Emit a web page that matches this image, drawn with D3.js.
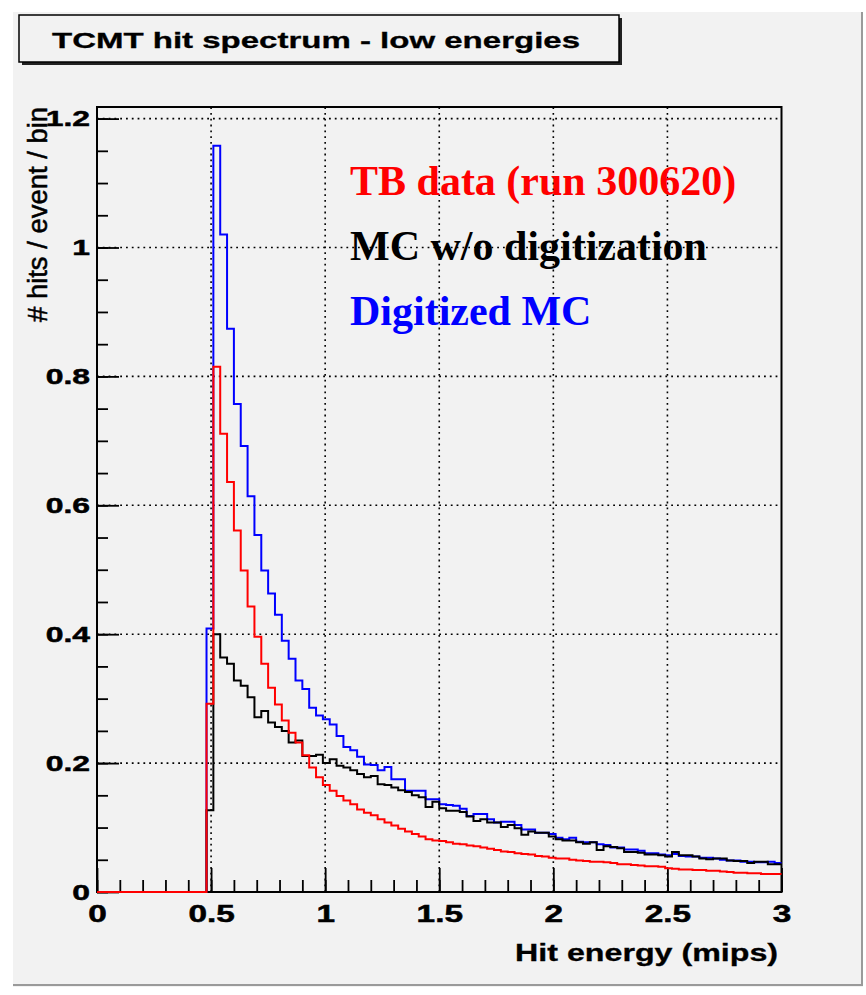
<!DOCTYPE html>
<html>
<head>
<meta charset="utf-8">
<script src="https://cdn.jsdelivr.net/npm/d3@7/dist/d3.min.js"></script>
<style>
  body { margin: 0; background: #fff; }
  svg { display: block; }
</style>
</head>
<body>
<div id="chart"></div>
<script>
// histogram binning (lower edge of first filled bin, bin width) and x range
const BIN_START = 0.48;
const BIN_WIDTH = 0.03;
const X_DOMAIN = [0, 3];
const Y_DOMAIN = [0, 1.218];

const xTickValues = [0, 0.5, 1, 1.5, 2, 2.5, 3];
const xTickLabels = ["0", "0.5", "1", "1.5", "2", "2.5", "3"];
const yTickValues = [0, 0.2, 0.4, 0.6, 0.8, 1, 1.2];
const yTickLabels = ["0", "0.2", "0.4", "0.6", "0.8", "1", "1.2"];

const chartTitle = "TCMT hit spectrum - low energies";
const xTitle = "Hit energy (mips)";
const yTitle = "# hits / event / bin";

// TB data (run 300620) — red
const tbData = [
  0.292, 0.815, 0.711, 0.636, 0.561, 0.499, 0.443, 0.396, 0.354, 0.317,
  0.291, 0.266, 0.247, 0.232, 0.212, 0.193, 0.178, 0.166, 0.157, 0.149,
  0.142, 0.136, 0.128, 0.123, 0.119, 0.113, 0.108, 0.103, 0.098, 0.094,
  0.090, 0.086, 0.082, 0.080, 0.079, 0.077, 0.075, 0.074, 0.072, 0.071,
  0.069, 0.067, 0.065, 0.063, 0.062, 0.060, 0.059, 0.058, 0.056, 0.055,
  0.053, 0.052, 0.052, 0.050, 0.049, 0.048, 0.047, 0.047, 0.046, 0.045,
  0.043, 0.043, 0.042, 0.041, 0.040, 0.040, 0.039, 0.037, 0.036, 0.035,
  0.035, 0.034, 0.034, 0.033, 0.033, 0.032, 0.031, 0.030, 0.030, 0.029,
  0.029, 0.028, 0.028, 0.028
];

// MC w/o digitization — black
const mcRaw = [
  0.127, 0.400, 0.364, 0.354, 0.328, 0.320, 0.302, 0.271, 0.281, 0.263,
  0.256, 0.250, 0.232, 0.235, 0.211, 0.211, 0.213, 0.200, 0.206, 0.196,
  0.193, 0.189, 0.183, 0.178, 0.180, 0.167, 0.166, 0.162, 0.158, 0.155,
  0.150, 0.147, 0.132, 0.140, 0.130, 0.126, 0.126, 0.124, 0.117, 0.110,
  0.113, 0.108, 0.108, 0.101, 0.104, 0.099, 0.089, 0.094, 0.092, 0.092,
  0.086, 0.082, 0.080, 0.080, 0.077, 0.075, 0.077, 0.065, 0.071, 0.070,
  0.068, 0.062, 0.062, 0.061, 0.058, 0.058, 0.057, 0.055, 0.062, 0.057,
  0.057, 0.055, 0.052, 0.051, 0.052, 0.052, 0.049, 0.048, 0.048, 0.045,
  0.047, 0.047, 0.043, 0.043
];

// Digitized MC — blue
const mcDigi = [
  0.409, 1.158, 1.020, 0.874, 0.757, 0.692, 0.614, 0.554, 0.499, 0.463,
  0.430, 0.390, 0.362, 0.328, 0.315, 0.286, 0.274, 0.268, 0.260, 0.242,
  0.225, 0.220, 0.210, 0.198, 0.197, 0.189, 0.194, 0.175, 0.175, 0.157,
  0.157, 0.157, 0.144, 0.144, 0.136, 0.135, 0.134, 0.129, 0.118, 0.121,
  0.121, 0.113, 0.108, 0.109, 0.109, 0.104, 0.097, 0.097, 0.092, 0.092,
  0.090, 0.084, 0.082, 0.084, 0.078, 0.077, 0.077, 0.074, 0.073, 0.069,
  0.069, 0.066, 0.066, 0.064, 0.060, 0.060, 0.058, 0.057, 0.059, 0.056,
  0.055, 0.055, 0.053, 0.053, 0.052, 0.050, 0.049, 0.049, 0.047, 0.047,
  0.046, 0.046, 0.047, 0.045
];

const seriesNames = ["TB data (run 300620)", "MC w/o digitization", "Digitized MC"];
const seriesColors = ["#ff0000", "#000000", "#0000ff"];
const seriesValues = [tbData, mcRaw, mcDigi];

// --- layout ---
const W = 866, H = 995;
const frame = { left: 97, right: 781.5, top: 107, bottom: 892 };
const SX = 1.45;             // ROOT text is stretched horizontally in the picture
const sansBold = "'Liberation Sans', Arial, Helvetica, sans-serif";
const bg = "#f2f2f2";

const svg = d3.select("#chart").append("svg")
  .attr("width", W).attr("height", H);

// canvas panel
svg.append("rect").attr("x", 0).attr("y", 0).attr("width", W).attr("height", H).attr("fill", "#fff");
svg.append("rect").attr("x", 13).attr("y", 12).attr("width", 850).attr("height", 975).attr("fill", bg);
svg.append("line").attr("x1", 862).attr("x2", 862).attr("y1", 12).attr("y2", 986)
  .attr("stroke", "#9a9a9a").attr("stroke-width", 2);
svg.append("line").attr("x1", 13).attr("x2", 863).attr("y1", 985).attr("y2", 985)
  .attr("stroke", "#9a9a9a").attr("stroke-width", 2);

const x = d3.scaleLinear().domain(X_DOMAIN).range([frame.left, frame.right]);
const y = d3.scaleLinear().domain(Y_DOMAIN).range([frame.bottom, frame.top]);

// --- grid (dotted) ---
const grid = svg.append("g").attr("stroke", "#000").attr("stroke-width", 1.6)
  .attr("stroke-dasharray", "1.8,4");
grid.selectAll("line.gx").data(xTickValues.filter(v => v > X_DOMAIN[0] && v < X_DOMAIN[1]))
  .join("line").attr("class", "gx")
  .attr("x1", d => x(d)).attr("x2", d => x(d))
  .attr("y1", frame.bottom).attr("y2", frame.top);
grid.selectAll("line.gy").data(yTickValues.filter(v => v > 0))
  .join("line").attr("class", "gy")
  .attr("y1", d => y(d)).attr("y2", d => y(d))
  .attr("x1", frame.left).attr("x2", frame.right);

// --- frame ---
svg.append("rect")
  .attr("x", frame.left).attr("y", frame.top)
  .attr("width", frame.right - frame.left).attr("height", frame.bottom - frame.top)
  .attr("fill", "none").attr("stroke", "#000").attr("stroke-width", 2);

// --- axes: ticks point inwards ---
const xMinor = svg.append("g").attr("transform", `translate(0,${frame.bottom})`)
  .call(d3.axisBottom(x).tickValues(d3.range(0, 3.0001, 0.1)).tickSize(-12).tickFormat(""));
const xMajor = svg.append("g").attr("transform", `translate(0,${frame.bottom})`)
  .call(d3.axisBottom(x).tickValues(xTickValues).tickSize(-24).tickPadding(14)
    .tickFormat((d, i) => xTickLabels[i]));
const yMinor = svg.append("g").attr("transform", `translate(${frame.left},0)`)
  .call(d3.axisLeft(y).tickValues(d3.range(0, 1.2001, 0.05)).tickSize(-11).tickFormat(""));
const yMajor = svg.append("g").attr("transform", `translate(${frame.left},0)`)
  .call(d3.axisLeft(y).tickValues(yTickValues).tickSize(-22).tickPadding(5)
    .tickFormat((d, i) => yTickLabels[i]));

for (const g of [xMinor, xMajor, yMinor, yMajor]) {
  g.select(".domain").remove();
  g.selectAll(".tick line").attr("stroke", "#000").attr("stroke-width", 1.8);
}
for (const g of [xMajor, yMajor]) {
  g.selectAll(".tick text")
    .attr("fill", "#000").attr("stroke", "#000").attr("stroke-width", 0.5)
    .attr("font-family", sansBold).attr("font-weight", "bold").attr("font-size", 22)
    .attr("transform", `scale(${SX},1)`);
}
xMajor.selectAll(".tick text").attr("font-size", 23);
// axisBottom text x is 0, so scaling keeps it centred; nudge y labels to end at x≈90
yMajor.selectAll(".tick text").attr("x", -7 / SX);

// --- histograms ---
const stepLine = d3.line()
  .x(d => x(d[0])).y(d => y(d[1]))
  .curve(d3.curveStepAfter);

function histPoints(values) {
  const pts = [[X_DOMAIN[0], 0]];
  values.forEach((v, i) => pts.push([BIN_START + i * BIN_WIDTH, v]));
  pts.push([X_DOMAIN[1], values[values.length - 1]]);
  return pts;
}

// draw order: blue, black, red on top
for (const idx of [2, 1, 0]) {
  svg.append("path")
    .attr("d", stepLine(histPoints(seriesValues[idx])))
    .attr("fill", "none")
    .attr("stroke", seriesColors[idx])
    .attr("stroke-width", 2)
    .attr("stroke-linejoin", "miter");
}

// --- axis titles ---
svg.append("text")
  .attr("transform", `translate(778,961) scale(1.4,1)`)
  .attr("text-anchor", "end")
  .attr("font-family", sansBold).attr("font-weight", "bold").attr("font-size", 23)
  .attr("stroke", "#000").attr("stroke-width", 0.3)
  .text(xTitle);

svg.append("text")
  .attr("transform", "translate(47,107) rotate(-90) scale(1,1.3)")
  .attr("text-anchor", "end")
  .attr("font-family", "'Liberation Sans', Arial, sans-serif").attr("font-size", 21)
  .attr("stroke", "#000").attr("stroke-width", 0.4)
  .attr("textLength", 215).attr("lengthAdjust", "spacingAndGlyphs")
  .text(yTitle);

// --- title box ---
svg.append("rect").attr("x", 22).attr("y", 18).attr("width", 600).attr("height", 47).attr("fill", "#222");
svg.append("rect").attr("x", 19).attr("y", 15).attr("width", 600).attr("height", 47)
  .attr("fill", bg).attr("stroke", "#000").attr("stroke-width", 1.5);
svg.append("text")
  .attr("x", 316).attr("y", 48)
  .attr("text-anchor", "middle")
  .attr("font-family", sansBold).attr("font-weight", "bold").attr("font-size", 22)
  .attr("stroke", "#000").attr("stroke-width", 0.3)
  .attr("textLength", 528).attr("lengthAdjust", "spacingAndGlyphs")
  .text(chartTitle);

// --- legend text ---
svg.append("g").selectAll("text").data(seriesNames).join("text")
  .attr("x", 350)
  .attr("y", (d, i) => 195 + i * 65)
  .attr("font-family", "'Liberation Serif', 'Times New Roman', serif")
  .attr("font-weight", "bold").attr("font-size", 42)
  .attr("fill", (d, i) => seriesColors[i])
  .text(d => d);
</script>
</body>
</html>
